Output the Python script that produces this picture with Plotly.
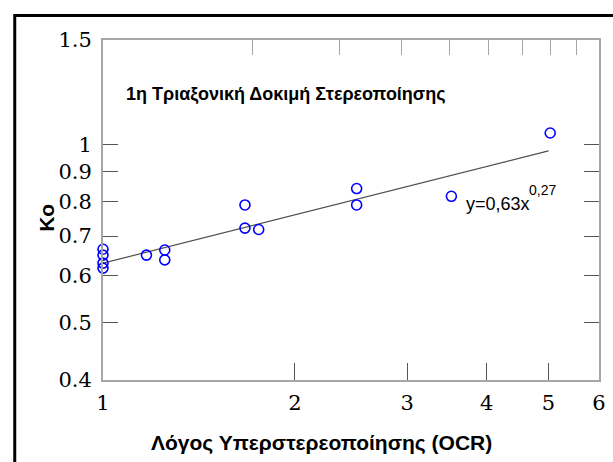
import plotly.graph_objects as go

# ---- data ----
ocr = [1.0, 1.0, 1.0, 1.0, 1.17, 1.25, 1.25, 1.67, 1.67, 1.755, 2.5, 2.5, 3.52, 5.03]
ko = [0.665, 0.65, 0.63, 0.618, 0.65, 0.663, 0.638, 0.79, 0.722, 0.718, 0.842, 0.79, 0.817, 1.045]

fit_x = [1.0, 5.0]
fit_y = [0.63, 0.975]

x_tickvals = [1, 2, 3, 4, 5, 6]
x_ticktext = ["1", "2", "3", "4", "5", "6"]
y_tickvals = [0.4, 0.5, 0.6, 0.7, 0.8, 0.9, 1.0, 1.5]
y_ticktext = ["0.4", "0.5", "0.6", "0.7", "0.8", "0.9", "1", "1.5"]
top_tickvals = [2, 3, 4, 5, 6, 7, 8, 9]

title_text = "1η Τριαξονική Δοκιμή Στερεοποίησης"
eq_text = "y=0,63x"
eq_exp = "0,27"
x_title = "Λόγος Υπερστερεοποίησης (OCR)"
y_title = "Ko"

# ---- layout geometry ----
W, H = 613, 462
ML, MR, MT, MB = 103, 7, 40, 82
PW, PH = W - ML - MR, H - MT - MB

SERIF = "DejaVu Serif"
SANS = "Liberation Sans"


def px(x):
    return (x - ML) / PW


def py(y):
    return (H - MB - y) / PH


FRAME = "#a6a6a6"
TICK = "#555555"

fig = go.Figure()

fig.add_trace(go.Scatter(
    x=fit_x, y=fit_y, mode="lines",
    line=dict(color="#505050", width=1.2),
    hoverinfo="skip", showlegend=False,
))
fig.add_trace(go.Scatter(
    x=ocr, y=ko, mode="markers",
    marker=dict(symbol="circle-open", size=10, color="#0000ff",
                line=dict(width=1.6, color="#0000ff")),
    cliponaxis=False, showlegend=False,
))
# helper trace so the top log axis is drawn
fig.add_trace(go.Scatter(
    x=[2], y=[1], xaxis="x2", mode="markers",
    marker=dict(opacity=0), hoverinfo="skip", showlegend=False,
))

fig.update_layout(
    width=W, height=H,
    margin=dict(l=ML, r=MR, t=MT, b=MB),
    paper_bgcolor="white", plot_bgcolor="white",
    xaxis=dict(
        type="log", range=[0, 0.778151], tickvals=x_tickvals, ticktext=x_ticktext,
        ticks="inside", ticklen=17, tickwidth=1, tickcolor=TICK,
        showline=True, linecolor=FRAME, linewidth=2, mirror=True,
        showgrid=False, zeroline=False,
        tickfont=dict(family=SERIF, size=21, color="black"),
        ticklabelstandoff=3,
    ),
    xaxis2=dict(
        type="log", range=[0, 1], overlaying="x", side="top",
        tickvals=top_tickvals, showticklabels=False,
        ticks="inside", ticklen=15, tickwidth=1, tickcolor=FRAME,
        showline=False, showgrid=False, zeroline=False,
    ),
    yaxis=dict(
        type="log", range=[-0.39794, 0.176091], tickvals=y_tickvals, ticktext=y_ticktext,
        ticks="inside", ticklen=15, tickwidth=1, tickcolor=TICK,
        showline=True, linecolor=FRAME, linewidth=2, mirror="ticks",
        showgrid=False, zeroline=False,
        tickfont=dict(family=SERIF, size=21, color="black"),
        ticklabelstandoff=5,
    ),
    shapes=[dict(
        type="rect", xref="paper", yref="paper",
        x0=px(13.5), x1=px(660), y0=py(15.5), y1=py(520),
        line=dict(color="black", width=3), fillcolor="rgba(0,0,0,0)",
        layer="above",
    )],
    annotations=[
        dict(text="<b>" + title_text + "</b>", xref="paper", yref="paper",
             x=px(124), y=py(94), xanchor="left", yanchor="middle", showarrow=False,
             font=dict(family=SANS, size=18, color="black")),
        dict(text=eq_text, xref="paper", yref="paper",
             x=px(469), y=py(204), xanchor="left", yanchor="middle", showarrow=False,
             font=dict(family=SANS, size=18, color="black")),
        dict(text=eq_exp, xref="paper", yref="paper",
             x=px(533), y=py(190), xanchor="left", yanchor="middle", showarrow=False,
             font=dict(family=SANS, size=14, color="black")),
        dict(text="<b>" + y_title + "</b>", xref="paper", yref="paper",
             x=px(45), y=py(218), xanchor="center", yanchor="middle", showarrow=False,
             textangle=-90,
             font=dict(family=SANS, size=21, color="black")),
        dict(text="<b>" + x_title + "</b>", xref="paper", yref="paper",
             x=px(325), y=py(443), xanchor="center", yanchor="middle", showarrow=False,
             font=dict(family=SANS, size=21, color="black")),
    ],
)

fig.write_html("out.html")
